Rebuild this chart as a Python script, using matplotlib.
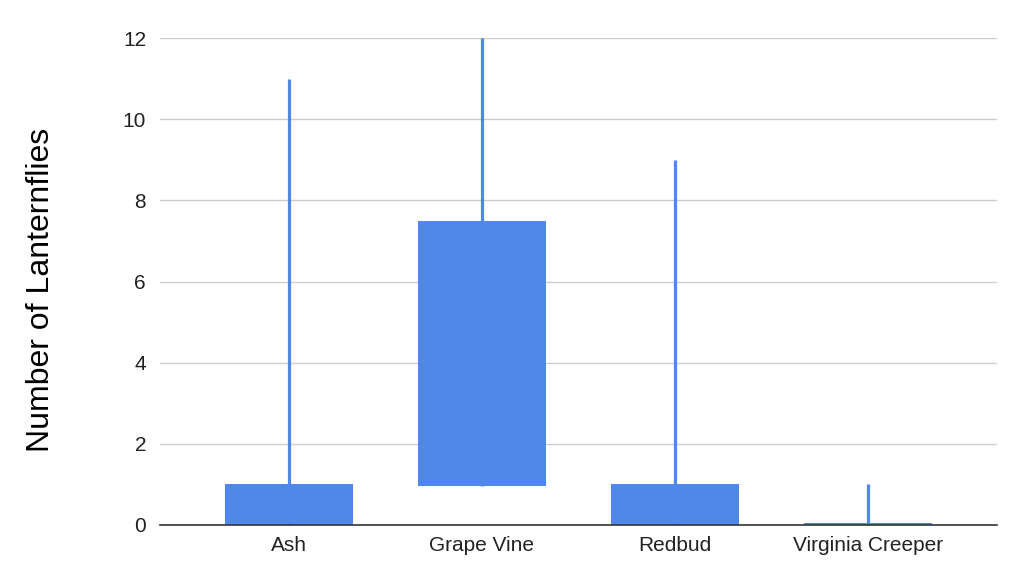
import numpy as np
from matplotlib import pyplot as plt

# candlestick-style data
plants = ["Ash", "Grape Vine", "Redbud", "Virginia Creeper"]
low = [0, 0.95, 0, 0]
box_bottom = [0, 0.95, 0, 0]
box_top = [1, 7.5, 1, 0.06]
high = [11, 12, 9, 1]

plt.rcParams['font.family'] = ['Liberation Sans', 'DejaVu Sans']

blue = "#4f87ea"

fig = plt.figure(figsize=(10.3, 5.79), dpi=100)
ax = fig.add_axes([160/1030, 54/579, 837/1030, 487/579])

x = np.arange(len(plants))
heights = np.array(box_top) - np.array(box_bottom)

ax.vlines(x, low, high, color=blue, linewidth=2.3, zorder=3, clip_on=False)
ax.bar(x, heights, bottom=box_bottom, width=0.66, color=blue, zorder=4)

ax.set_xlim(-0.668, 3.668)
ax.set_ylim(0, 12)
ax.set_yticks(np.arange(0, 13, 2))
ax.set_xticks(x)
ax.set_xticklabels(plants)

ax.grid(axis="y", color="#cccccc", linewidth=1)
ax.set_axisbelow(True)
for s in ["top", "right", "left"]:
    ax.spines[s].set_visible(False)
ax.spines["bottom"].set_color("#333333")
ax.spines["bottom"].set_linewidth(1.2)
ax.spines["bottom"].set_zorder(5)

ax.tick_params(axis="both", length=0, labelsize=15, colors="#222222")
ax.tick_params(axis="y", pad=10)
ax.tick_params(axis="x", pad=8)

ax.set_ylabel("Number of Lanternflies", fontsize=23, color="#000000")
ax.yaxis.set_label_coords(-0.124, 0.482)

plt.savefig("out.png", dpi=100)
